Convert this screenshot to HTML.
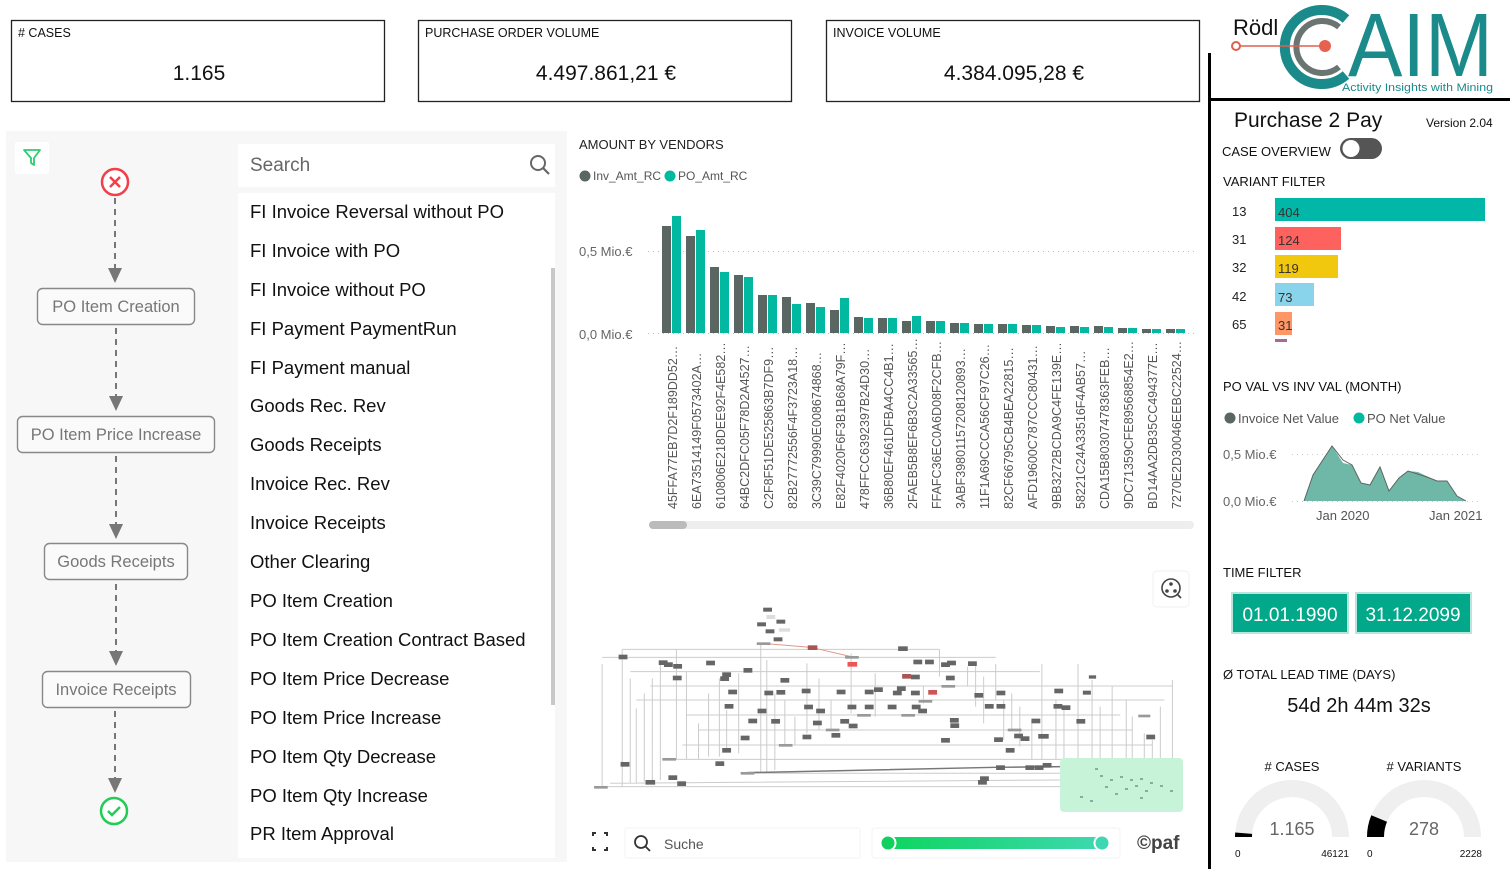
<!DOCTYPE html>
<html><head><meta charset="utf-8"><style>
html,body{margin:0;padding:0;background:#fff;}
body{width:1510px;height:869px;overflow:hidden;position:relative;font-family:"Liberation Sans",sans-serif;}
svg{position:absolute;left:0;top:0;}
</style></head><body>
<svg width="1510" height="869" viewBox="0 0 1510 869" font-family="Liberation Sans, sans-serif">
<!-- KPI boxes -->
<g fill="#fff" stroke="#222" stroke-width="1.3">
<rect x="11.5" y="20.5" width="373" height="81"/>
<rect x="418.5" y="20.5" width="373" height="81"/>
<rect x="826.5" y="20.5" width="373" height="81"/>
</g>
<g font-size="12.5" fill="#111">
<text x="18" y="37"># CASES</text>
<text x="425" y="37">PURCHASE ORDER VOLUME</text>
<text x="833" y="37">INVOICE VOLUME</text>
</g>
<g font-size="21" fill="#111" text-anchor="middle">
<text x="199" y="80">1.165</text>
<text x="606" y="80">4.497.861,21 €</text>
<text x="1014" y="80">4.384.095,28 €</text>
</g>

<!-- left panel -->
<rect x="6" y="131" width="561" height="731" fill="#f7f7f7"/>
<rect x="15" y="142" width="34" height="32" fill="#fff" rx="2"/>
<path d="M24 150 L40 150 L34 158 L34 165 L31 163 L31 158 Z" fill="none" stroke="#2ecc71" stroke-width="1.8" stroke-linejoin="round"/>
<circle cx="115" cy="182" r="13" fill="#fff" stroke="#f0404a" stroke-width="2.5"/>
<path d="M110 177 L120 187 M120 177 L110 187" stroke="#f0404a" stroke-width="2.5"/>
<g stroke="#777" stroke-width="2" stroke-dasharray="6,5">
<line x1="115" y1="198" x2="115" y2="268"/>
<line x1="116" y1="328" x2="116" y2="396"/>
<line x1="116" y1="456" x2="116" y2="524"/>
<line x1="116" y1="584" x2="116" y2="651"/>
<line x1="115" y1="711" x2="115" y2="778"/>
</g>
<g fill="#777">
<path d="M108 268 L122 268 L115 283 Z"/>
<path d="M109 396 L123 396 L116 411 Z"/>
<path d="M109 524 L123 524 L116 539 Z"/>
<path d="M109 651 L123 651 L116 666 Z"/>
<path d="M108 778 L122 778 L115 793 Z"/>
</g>
<g fill="#fafafa" stroke="#888" stroke-width="1.4">
<rect x="37.5" y="288.5" width="157" height="36" rx="5"/>
<rect x="17.5" y="416.5" width="197" height="36" rx="5"/>
<rect x="44.5" y="543.5" width="143" height="36" rx="5"/>
<rect x="42.5" y="671.5" width="148" height="36" rx="5"/>
</g>
<g font-size="16.5" fill="#777" text-anchor="middle">
<text x="116" y="312">PO Item Creation</text>
<text x="116" y="440">PO Item Price Increase</text>
<text x="116" y="567">Goods Receipts</text>
<text x="116" y="695">Invoice Receipts</text>
</g>
<circle cx="114" cy="811" r="13" fill="#fff" stroke="#22cc55" stroke-width="2.5"/>
<path d="M108 811 L112 815 L120 807" fill="none" stroke="#22cc55" stroke-width="2.5"/>

<rect x="238" y="144" width="317" height="43" fill="#fff"/>
<text x="250" y="171" font-size="19" fill="#666">Search</text>
<circle cx="538" cy="163" r="7" fill="none" stroke="#666" stroke-width="2"/>
<line x1="543" y1="168" x2="549" y2="174" stroke="#666" stroke-width="2.2"/>
<rect x="238" y="193" width="317" height="665" fill="#fff"/>
<rect x="551" y="268" width="4" height="437" fill="#c8c8c8"/>
<g font-size="18.5" fill="#111">
<text x="250" y="218">FI Invoice Reversal without PO</text>
<text x="250" y="257">FI Invoice with PO</text>
<text x="250" y="296">FI Invoice without PO</text>
<text x="250" y="335">FI Payment PaymentRun</text>
<text x="250" y="374">FI Payment manual</text>
<text x="250" y="412">Goods Rec. Rev</text>
<text x="250" y="451">Goods Receipts</text>
<text x="250" y="490">Invoice Rec. Rev</text>
<text x="250" y="529">Invoice Receipts</text>
<text x="250" y="568">Other Clearing</text>
<text x="250" y="607">PO Item Creation</text>
<text x="250" y="646">PO Item Creation Contract Based</text>
<text x="250" y="685">PO Item Price Decrease</text>
<text x="250" y="724">PO Item Price Increase</text>
<text x="250" y="763">PO Item Qty Decrease</text>
<text x="250" y="802">PO Item Qty Increase</text>
<text x="250" y="840">PR Item Approval</text>
</g>

<!-- bar chart -->
<text x="579" y="149" font-size="13" fill="#222">AMOUNT BY VENDORS</text>
<circle cx="585" cy="176" r="5.5" fill="#5a6661"/>
<text x="593" y="180" font-size="12" fill="#555">Inv_Amt_RC</text>
<circle cx="670" cy="176" r="5.5" fill="#01b8a0"/>
<text x="678" y="180" font-size="12" fill="#555">PO_Amt_RC</text>
<g font-size="13" fill="#666">
<text x="579" y="256">0,5 Mio.€</text>
<text x="579" y="339">0,0 Mio.€</text>
</g>
<g stroke="#bbb" stroke-dasharray="1,4">
<line x1="648" y1="251.5" x2="1195" y2="251.5"/>
<line x1="648" y1="333.5" x2="1195" y2="333.5"/>
</g>
<g id="bars">
<rect x="662" y="226" width="9" height="107" fill="#5a6661"/><rect x="672" y="216" width="9" height="117" fill="#01b8a0"/>
<rect x="686" y="236" width="9" height="97" fill="#5a6661"/><rect x="696" y="230" width="9" height="103" fill="#01b8a0"/>
<rect x="710" y="267" width="9" height="66" fill="#5a6661"/><rect x="720" y="272" width="9" height="61" fill="#01b8a0"/>
<rect x="734" y="275" width="9" height="58" fill="#5a6661"/><rect x="744" y="277" width="9" height="56" fill="#01b8a0"/>
<rect x="758" y="295" width="9" height="38" fill="#5a6661"/><rect x="768" y="295" width="9" height="38" fill="#01b8a0"/>
<rect x="782" y="297" width="9" height="36" fill="#5a6661"/><rect x="792" y="304" width="9" height="29" fill="#01b8a0"/>
<rect x="806" y="303" width="9" height="30" fill="#5a6661"/><rect x="816" y="307" width="9" height="26" fill="#01b8a0"/>
<rect x="830" y="310" width="9" height="23" fill="#5a6661"/><rect x="840" y="298" width="9" height="35" fill="#01b8a0"/>
<rect x="854" y="317" width="9" height="16" fill="#5a6661"/><rect x="864" y="318" width="9" height="15" fill="#01b8a0"/>
<rect x="878" y="318" width="9" height="15" fill="#5a6661"/><rect x="888" y="318" width="9" height="15" fill="#01b8a0"/>
<rect x="902" y="321" width="9" height="12" fill="#5a6661"/><rect x="912" y="316" width="9" height="17" fill="#01b8a0"/>
<rect x="926" y="321" width="9" height="12" fill="#5a6661"/><rect x="936" y="321" width="9" height="12" fill="#01b8a0"/>
<rect x="950" y="323" width="9" height="10" fill="#5a6661"/><rect x="960" y="323" width="9" height="10" fill="#01b8a0"/>
<rect x="974" y="324" width="9" height="9" fill="#5a6661"/><rect x="984" y="324" width="9" height="9" fill="#01b8a0"/>
<rect x="998" y="324" width="9" height="9" fill="#5a6661"/><rect x="1008" y="324" width="9" height="9" fill="#01b8a0"/>
<rect x="1022" y="325" width="9" height="8" fill="#5a6661"/><rect x="1032" y="325" width="9" height="8" fill="#01b8a0"/>
<rect x="1046" y="326" width="9" height="7" fill="#5a6661"/><rect x="1056" y="327" width="9" height="6" fill="#01b8a0"/>
<rect x="1070" y="326" width="9" height="7" fill="#5a6661"/><rect x="1080" y="327" width="9" height="6" fill="#01b8a0"/>
<rect x="1094" y="326" width="9" height="7" fill="#5a6661"/><rect x="1104" y="327" width="9" height="6" fill="#01b8a0"/>
<rect x="1118" y="328" width="9" height="5" fill="#5a6661"/><rect x="1128" y="328" width="9" height="5" fill="#01b8a0"/>
<rect x="1142" y="329" width="9" height="4" fill="#5a6661"/><rect x="1152" y="329" width="9" height="4" fill="#01b8a0"/>
<rect x="1166" y="329" width="9" height="4" fill="#5a6661"/><rect x="1176" y="329" width="9" height="4" fill="#01b8a0"/>
</g>
<g font-size="12.5" fill="#555">
<text transform="translate(677,509) rotate(-90)">45FFA77EB7D2F189DD52…</text>
<text transform="translate(701,509) rotate(-90)">6EA73514149F0573402A…</text>
<text transform="translate(725,509) rotate(-90)">610806E218DEE92F4E582…</text>
<text transform="translate(749,509) rotate(-90)">64BC2DFC05F78D2A4527…</text>
<text transform="translate(773,509) rotate(-90)">C2F8F51DE525863B7DF9…</text>
<text transform="translate(797,509) rotate(-90)">82B27772556F4F3723A18…</text>
<text transform="translate(821,509) rotate(-90)">3C39C79990E008674868…</text>
<text transform="translate(845,509) rotate(-90)">E82F4020F6F3B1B68A79F…</text>
<text transform="translate(869,509) rotate(-90)">478FFCC6392397B24D30…</text>
<text transform="translate(893,509) rotate(-90)">36B80EF461DFBA4CC4B1…</text>
<text transform="translate(917,509) rotate(-90)">2FAEB5B8EF6B3C2A33565…</text>
<text transform="translate(941,509) rotate(-90)">FFAFC36EC0A6D08F2CFB…</text>
<text transform="translate(965,509) rotate(-90)">3ABF39801157208120893…</text>
<text transform="translate(989,509) rotate(-90)">11F1A69CCCA56CF97C26…</text>
<text transform="translate(1013,509) rotate(-90)">82CF66795CB4BEA22815…</text>
<text transform="translate(1037,509) rotate(-90)">AFD19600C787CCC80431…</text>
<text transform="translate(1061,509) rotate(-90)">9BB3272BCDA9C4FE139E…</text>
<text transform="translate(1085,509) rotate(-90)">58221C24A33516F4AB57…</text>
<text transform="translate(1109,509) rotate(-90)">CDA15B80307478363FEB…</text>
<text transform="translate(1133,509) rotate(-90)">9DC71359CFE89568854E2…</text>
<text transform="translate(1157,509) rotate(-90)">BD14AA2DB35CC494377E…</text>
<text transform="translate(1181,509) rotate(-90)">7270E2D30046EEBC22524…</text>
</g>
<rect x="649" y="521" width="545" height="8" rx="4" fill="#eee"/>
<rect x="649" y="521" width="38" height="8" rx="4" fill="#bbb"/>

<!-- process graph -->
<rect x="1153" y="571" width="36" height="36" rx="4" fill="#fff" stroke="#f0f0f0"/>
<circle cx="1171" cy="588" r="9" fill="none" stroke="#444" stroke-width="1.6"/>
<circle cx="1171" cy="584" r="1.8" fill="#444"/><circle cx="1167" cy="591" r="1.8" fill="#444"/><circle cx="1175" cy="591" r="1.8" fill="#444"/>
<line x1="1177" y1="594" x2="1181" y2="598" stroke="#444" stroke-width="1.8"/>
<g transform="translate(570,560) scale(0.4016,0.3333)">
<g fill="none" stroke="#ccc" stroke-width="1" vector-effect="non-scaling-stroke">
<path vector-effect="non-scaling-stroke" d="M130 268 L920 268 M80 292 L1060 292 M150 335 L1170 335 M200 378 L1500 378 M165 420 L1480 420 M290 465 L1370 465 M320 510 L1400 510 M280 555 L1450 555 M230 598 L1500 598 M425 640 L1230 640 M60 680 L1230 680 M100 670 L1220 660"/>
<path vector-effect="non-scaling-stroke" d="M80 312 V680 M130 268 V680 M150 355 V670 M165 445 V670 M185 400 V665 M205 355 V660 M225 315 V660 M265 268 V600 M290 335 V598 M320 490 V598 M345 400 V590 M372 355 V590 M390 450 V575 M420 340 V580 M475 250 V640 M490 300 V640 M510 400 V630 M535 420 V560 M560 470 V555 M590 310 V520 M620 355 V510 M650 420 V510 M700 280 V460 M760 340 V470 M880 380 V430 M920 268 V350 M990 320 V380 M1010 312 V440 M1030 350 V490 M1060 312 V420 M1100 400 V510 M1120 440 V560 M1175 312 V600 M1210 420 V600 M1265 312 V600 M1300 360 V600 M1320 440 V600 M1350 380 V600 M1385 420 V600 M1400 470 V600 M1430 520 V600 M1470 440 V600 M1500 360 V600 M1230 440 V600 M1150 480 V600 M1080 420 V540 M1450 540 V600"/>
</g>
<path vector-effect="non-scaling-stroke" d="M440 638 L1060 622 L1230 620" stroke="#777" stroke-width="1.5" fill="none"/>
<path vector-effect="non-scaling-stroke" d="M480 250 L600 262 L700 290" stroke="#d98" stroke-width="1" fill="none"/>
<g fill="#666">
<rect x="481" y="143" width="22" height="12"/><rect x="489" y="165" width="22" height="12" fill="#ddd"/><rect x="514" y="179" width="22" height="12"/><rect x="466" y="187" width="22" height="12"/><rect x="487" y="208" width="22" height="12"/><rect x="507" y="232" width="22" height="12"/><rect x="520" y="205" width="28" height="10" fill="#ddd"/>
<rect x="592" y="256" width="24" height="14" fill="#a55"/><rect x="817" y="259" width="24" height="14"/><rect x="121" y="284" width="22" height="14"/>
<rect x="221" y="301" width="22" height="14"/><rect x="234" y="307" width="22" height="14"/><rect x="257" y="312" width="22" height="14"/><rect x="339" y="302" width="22" height="14"/>
<rect x="691" y="306" width="24" height="14" fill="#e55"/><rect x="855" y="299" width="22" height="14"/><rect x="884" y="299" width="22" height="14"/><rect x="924" y="307" width="22" height="14"/><rect x="939" y="302" width="22" height="14"/><rect x="991" y="304" width="22" height="14"/>
<rect x="256" y="347" width="22" height="14"/><rect x="379" y="337" width="22" height="14"/><rect x="374" y="349" width="22" height="14"/><rect x="432" y="324" width="22" height="14"/><rect x="524" y="354" width="22" height="14"/>
<rect x="827" y="342" width="22" height="14" fill="#a55"/><rect x="849" y="344" width="22" height="14"/><rect x="936" y="347" width="22" height="14"/><rect x="1292" y="346" width="18" height="10"/>
<rect x="394" y="389" width="22" height="14"/><rect x="484" y="392" width="22" height="14"/><rect x="514" y="390" width="22" height="14"/><rect x="577" y="386" width="22" height="14"/><rect x="664" y="389" width="22" height="14"/><rect x="734" y="389" width="22" height="14"/><rect x="757" y="382" width="22" height="14"/><rect x="804" y="392" width="22" height="14"/><rect x="814" y="379" width="22" height="14"/><rect x="849" y="392" width="22" height="14"/>
<rect x="892" y="390" width="22" height="14" fill="#c55"/><rect x="1007" y="399" width="22" height="14"/><rect x="1062" y="392" width="22" height="14"/><rect x="1206" y="386" width="22" height="14"/><rect x="1277" y="392" width="20" height="12"/>
<rect x="385" y="432" width="22" height="14"/><rect x="467" y="446" width="22" height="14"/><rect x="583" y="434" width="22" height="14"/><rect x="613" y="446" width="22" height="14"/><rect x="691" y="434" width="22" height="14"/><rect x="734" y="434" width="22" height="14"/><rect x="791" y="434" width="22" height="14"/><rect x="851" y="434" width="22" height="14"/><rect x="867" y="446" width="22" height="14"/><rect x="1033" y="432" width="22" height="14"/><rect x="1062" y="432" width="22" height="14"/><rect x="1204" y="432" width="22" height="14"/><rect x="1224" y="436" width="22" height="14"/>
<rect x="444" y="476" width="22" height="14"/><rect x="501" y="477" width="22" height="14"/><rect x="605" y="482" width="22" height="14"/><rect x="673" y="477" width="22" height="14"/><rect x="694" y="491" width="22" height="14"/><rect x="946" y="474" width="22" height="14"/><rect x="947" y="490" width="22" height="14"/><rect x="1149" y="476" width="22" height="14"/><rect x="1261" y="477" width="22" height="14"/>
<rect x="425" y="527" width="22" height="14"/><rect x="579" y="524" width="22" height="14"/><rect x="651" y="519" width="22" height="14"/><rect x="924" y="534" width="22" height="14"/><rect x="1056" y="532" width="22" height="14"/><rect x="1106" y="521" width="22" height="14"/><rect x="1122" y="529" width="22" height="14"/><rect x="1166" y="522" width="26" height="14"/><rect x="1435" y="524" width="22" height="14"/>
<rect x="379" y="564" width="22" height="14"/><rect x="1085" y="564" width="22" height="14"/><rect x="126" y="606" width="22" height="14"/><rect x="362" y="604" width="22" height="14"/>
<rect x="245" y="646" width="22" height="14"/><rect x="188" y="660" width="24" height="14"/><rect x="267" y="664" width="22" height="14"/>
<rect x="1061" y="616" width="22" height="14"/><rect x="1134" y="616" width="22" height="14"/><rect x="1157" y="616" width="22" height="14"/><rect x="1177" y="609" width="22" height="14"/><rect x="1021" y="649" width="22" height="14"/><rect x="1016" y="660" width="22" height="14"/>
<rect x="1415" y="464" width="30" height="8" fill="#999"/><rect x="230" y="594" width="34" height="8" fill="#999"/><rect x="425" y="636" width="34" height="8" fill="#999"/><rect x="60" y="678" width="34" height="8" fill="#999"/><rect x="685" y="288" width="34" height="8" fill="#999"/><rect x="925" y="375" width="34" height="8" fill="#999"/><rect x="868" y="420" width="34" height="8" fill="#999"/><rect x="715" y="462" width="34" height="8" fill="#999"/><rect x="825" y="462" width="34" height="8" fill="#999"/><rect x="637" y="506" width="34" height="8" fill="#999"/><rect x="1090" y="506" width="34" height="8" fill="#999"/><rect x="520" y="552" width="34" height="8" fill="#999"/><rect x="465" y="247" width="34" height="8" fill="#999"/>
</g>
</g>
<rect x="1060" y="758" width="123" height="54" rx="4" fill="#c7f3d8"/>
<g fill="#7a9" opacity="0.9">
<rect x="1095" y="768" width="3" height="2"/><rect x="1100" y="775" width="3" height="2"/><rect x="1110" y="779" width="3" height="2"/><rect x="1120" y="776" width="3" height="2"/><rect x="1130" y="779" width="3" height="2"/><rect x="1140" y="778" width="3" height="2"/><rect x="1150" y="782" width="3" height="2"/><rect x="1160" y="785" width="3" height="2"/><rect x="1105" y="786" width="3" height="2"/><rect x="1125" y="788" width="3" height="2"/><rect x="1135" y="785" width="3" height="2"/><rect x="1145" y="790" width="3" height="2"/><rect x="1170" y="790" width="3" height="2"/><rect x="1080" y="796" width="3" height="2"/><rect x="1090" y="800" width="3" height="2"/><rect x="1140" y="797" width="3" height="2"/><rect x="1115" y="793" width="3" height="2"/>
</g>
<rect x="585" y="828" width="30" height="30" rx="3" fill="#fff"/>
<path d="M593 836 V833 H596 M604 833 H607 V836 M607 847 V850 H604 M596 850 H593 V847" fill="none" stroke="#333" stroke-width="2"/>
<rect x="625" y="828" width="235" height="30" rx="2" fill="#fff" stroke="#f3f3f3"/>
<circle cx="641" cy="842" r="6" fill="none" stroke="#333" stroke-width="1.8"/>
<line x1="645.5" y1="846.5" x2="650" y2="851" stroke="#333" stroke-width="1.8"/>
<text x="664" y="849" font-size="14" fill="#555">Suche</text>
<rect x="872" y="828" width="248" height="30" rx="3" fill="#fff" stroke="#f3f3f3"/>
<defs><linearGradient id="gs" x1="0" x2="1"><stop offset="0" stop-color="#0ed560"/><stop offset="1" stop-color="#3ed8b0"/></linearGradient></defs>
<rect x="888" y="837" width="214" height="12" fill="url(#gs)"/>
<circle cx="888" cy="843" r="7.5" fill="#10d060" stroke="#fff" stroke-width="2"/>
<circle cx="1102" cy="843" r="7.5" fill="#3dd8b2" stroke="#fff" stroke-width="2"/>
<text x="1137" y="849" font-size="19" font-weight="bold" fill="#444">©paf</text>

<!-- right panel -->
<line x1="1209.5" y1="53" x2="1209.5" y2="869" stroke="#000" stroke-width="3"/>
<line x1="1209" y1="99.5" x2="1510" y2="99.5" stroke="#000" stroke-width="3"/>
<text x="1233" y="35" font-size="22" fill="#111">Rödl</text>
<path d="M1346 19 A37 37 0 1 0 1346 75" fill="none" stroke="#1b8a8a" stroke-width="10"/>
<path d="M1339 27 A26 26 0 1 0 1339 67" fill="none" stroke="#6a7470" stroke-width="6"/>
<line x1="1240" y1="46" x2="1322" y2="46" stroke="#e06050" stroke-width="1.5"/>
<circle cx="1236" cy="46" r="4" fill="#fff" stroke="#e06050" stroke-width="2"/>
<circle cx="1325" cy="46" r="6" fill="#e86050"/>
<text x="1348" y="76" font-size="90" fill="#1a8a8a" textLength="145" lengthAdjust="spacingAndGlyphs">AIM</text>
<text x="1342" y="91" font-size="11" fill="#1a8a8a" textLength="151" lengthAdjust="spacingAndGlyphs">Activity Insights with Mining</text>
<text x="1234" y="127" font-size="21" fill="#111">Purchase 2 Pay</text>
<text x="1426" y="127" font-size="12" fill="#111">Version 2.04</text>
<text x="1222" y="156" font-size="13" fill="#111">CASE OVERVIEW</text>
<rect x="1340" y="138" width="42" height="21" rx="10.5" fill="#555"/>
<circle cx="1351" cy="148.5" r="8.5" fill="#fff"/>
<text x="1223" y="186" font-size="13" fill="#111">VARIANT FILTER</text>
<g font-size="13" fill="#222">
<text x="1232" y="216">13</text><text x="1232" y="244">31</text><text x="1232" y="272">32</text><text x="1232" y="301">42</text><text x="1232" y="329">65</text>
</g>
<rect x="1275" y="198" width="210" height="23" fill="#01b8a8"/>
<rect x="1275" y="227" width="66" height="23" fill="#fd625e"/>
<rect x="1275" y="255" width="63" height="23" fill="#f2c80f"/>
<rect x="1275" y="283" width="39" height="23" fill="#8ad4eb"/>
<rect x="1275" y="312" width="17" height="23" fill="#fe9666"/>
<rect x="1275" y="339" width="12" height="3" fill="#a66999"/>
<g font-size="13" fill="#333">
<text x="1278" y="217">404</text><text x="1278" y="245">124</text><text x="1278" y="273">119</text><text x="1278" y="302">73</text><text x="1278" y="330">31</text>
</g>

<text x="1223" y="391" font-size="13" fill="#111">PO VAL VS INV VAL (MONTH)</text>
<circle cx="1230" cy="418" r="5.5" fill="#5a6661"/>
<text x="1238" y="423" font-size="13" fill="#555">Invoice Net Value</text>
<circle cx="1359" cy="418" r="5.5" fill="#01b8a0"/>
<text x="1367" y="423" font-size="13" fill="#555">PO Net Value</text>
<text x="1223" y="459" font-size="13" fill="#666">0,5 Mio.€</text>
<text x="1223" y="506" font-size="13" fill="#666">0,0 Mio.€</text>
<g stroke="#ccc" stroke-dasharray="1,4"><line x1="1292" y1="454.5" x2="1480" y2="454.5"/><line x1="1292" y1="501.5" x2="1480" y2="501.5"/></g>
<path d="M1304 501 L1313 475 L1332 446 L1343 463 L1352 465 L1361 483 L1370 485 L1380 467 L1389 491 L1399 478 L1408 471 L1418 472 L1437 481 L1447 481 L1457 496 L1466 501 Z" fill="#6fb8a8"/>
<path d="M1304 501 L1313 475 L1332 446 L1343 460 L1352 465 L1361 483 L1370 485 L1380 467 L1389 491 L1399 478 L1408 471 L1427 477 L1437 481 L1447 481 L1457 496 L1466 501" fill="none" stroke="#5a6661" stroke-width="1"/>
<text x="1316" y="520" font-size="13" fill="#555">Jan 2020</text>
<text x="1429" y="520" font-size="13" fill="#555">Jan 2021</text>

<text x="1223" y="577" font-size="13" fill="#111">TIME FILTER</text>
<rect x="1232" y="593" width="116" height="40" fill="#01a88a" stroke="#b8e6dc" stroke-width="2"/>
<rect x="1356" y="593" width="115" height="40" fill="#01a88a" stroke="#b8e6dc" stroke-width="2"/>
<text x="1290" y="621" font-size="19" fill="#fff" text-anchor="middle">01.01.1990</text>
<text x="1413" y="621" font-size="19" fill="#fff" text-anchor="middle">31.12.2099</text>
<text x="1223" y="679" font-size="13" fill="#111">Ø TOTAL LEAD TIME (DAYS)</text>
<text x="1359" y="712" font-size="20" fill="#111" text-anchor="middle">54d 2h 44m 32s</text>

<text x="1292" y="771" font-size="13" fill="#111" text-anchor="middle"># CASES</text>
<text x="1424" y="771" font-size="13" fill="#111" text-anchor="middle"># VARIANTS</text>
<path d="M1235 837 A57 57 0 0 1 1349 837 L1332 837 A40 40 0 0 0 1252 837 Z" fill="#efefef"/>
<path d="M1367 837 A57 57 0 0 1 1481 837 L1464 837 A40 40 0 0 0 1384 837 Z" fill="#efefef"/>
<path d="M1235 837 A57 57 0 0 1 1235.2 832.5 L1252.1 833.9 A40 40 0 0 0 1252 837 Z" fill="#000"/>
<path d="M1367 837 A57 57 0 0 1 1371.3 815.2 L1387 821.7 A40 40 0 0 0 1384 837 Z" fill="#000"/>
<text x="1292" y="835" font-size="18" fill="#666" text-anchor="middle">1.165</text>
<text x="1424" y="835" font-size="18" fill="#666" text-anchor="middle">278</text>
<g font-size="10" fill="#111">
<text x="1235" y="857">0</text><text x="1349" y="857" text-anchor="end">46121</text>
<text x="1367" y="857">0</text><text x="1482" y="857" text-anchor="end">2228</text>
</g>
</svg>
</body></html>
